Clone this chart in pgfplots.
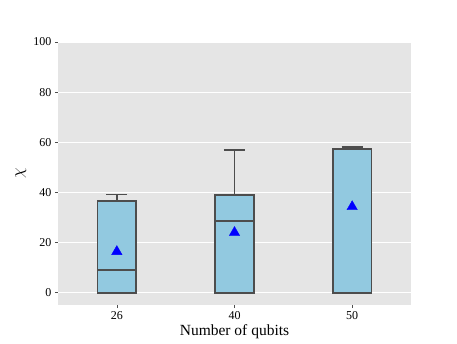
\documentclass[border=0pt]{standalone}
\usepackage{pgfplots}
\pgfplotsset{compat=1.18}
\usepgfplotslibrary{statistics}
\usepackage{fontspec}
\setmainfont{Liberation Serif}
\definecolor{boxfill}{RGB}{146,201,224}
\definecolor{boxline}{RGB}{77,77,77}
\definecolor{panel}{RGB}{229,229,229}
\begin{document}
\begin{tikzpicture}
\path[use as bounding box] (0pt,0pt) rectangle (457pt,343pt);
\begin{axis}[
  at={(58pt,38pt)}, anchor=south west,
  scale only axis, width=353pt, height=263pt,
  xmin=0.5, xmax=3.5, ymin=-4.9, ymax=100,
  axis background/.style={fill=panel},
  axis line style={draw=none},
  xtick={1,2,3}, xticklabels={26,40,50},
  ytick={0,20,40,60,80,100},
  ymajorgrids, grid style={white, line width=0.8pt},
  tick align=outside, tick pos=left,
  major tick length=3pt,
  tick style={boxline, line width=0.5pt},
  /pgf/number format/assume math mode=true,
  ticklabel style={font=\fontsize{12}{14}\selectfont, text=black},
  xlabel={Number of qubits},
  xlabel style={font=\fontsize{15.5}{17}\selectfont, at={(axis description cs:0.5,0)}, anchor=north, yshift=-16pt},
  ylabel={$\chi$},
  ylabel style={font=\fontsize{19}{21}\selectfont, at={(axis description cs:-0.105,0.5)}, anchor=center},
  boxplot/draw direction=y,
  clip=false,
]
\addplot[draw=boxline, fill=boxfill, line width=1.8pt,
  boxplot prepared={draw position=1, lower whisker=0, lower quartile=0, median=9.1, upper quartile=36.7, upper whisker=39.2, box extend=0.33, whisker extend=0.18}]
  coordinates {};
\addplot[draw=boxline, fill=boxfill, line width=1.8pt,
  boxplot prepared={draw position=2, lower whisker=0, lower quartile=0, median=28.6, upper quartile=39.0, upper whisker=57.0, box extend=0.33, whisker extend=0.18}]
  coordinates {};
\addplot[draw=boxline, fill=boxfill, line width=1.8pt,
  boxplot prepared={draw position=3, lower whisker=0, lower quartile=0, median=0, upper quartile=57.3, upper whisker=58.2, box extend=0.33, whisker extend=0.18}]
  coordinates {};
\addplot[only marks, mark=triangle*, mark size=6pt, color=blue, mark options={draw=blue, fill=blue}] coordinates {(1,16.4) (2,24.0) (3,34.3)};
\end{axis}
\end{tikzpicture}
\end{document}
